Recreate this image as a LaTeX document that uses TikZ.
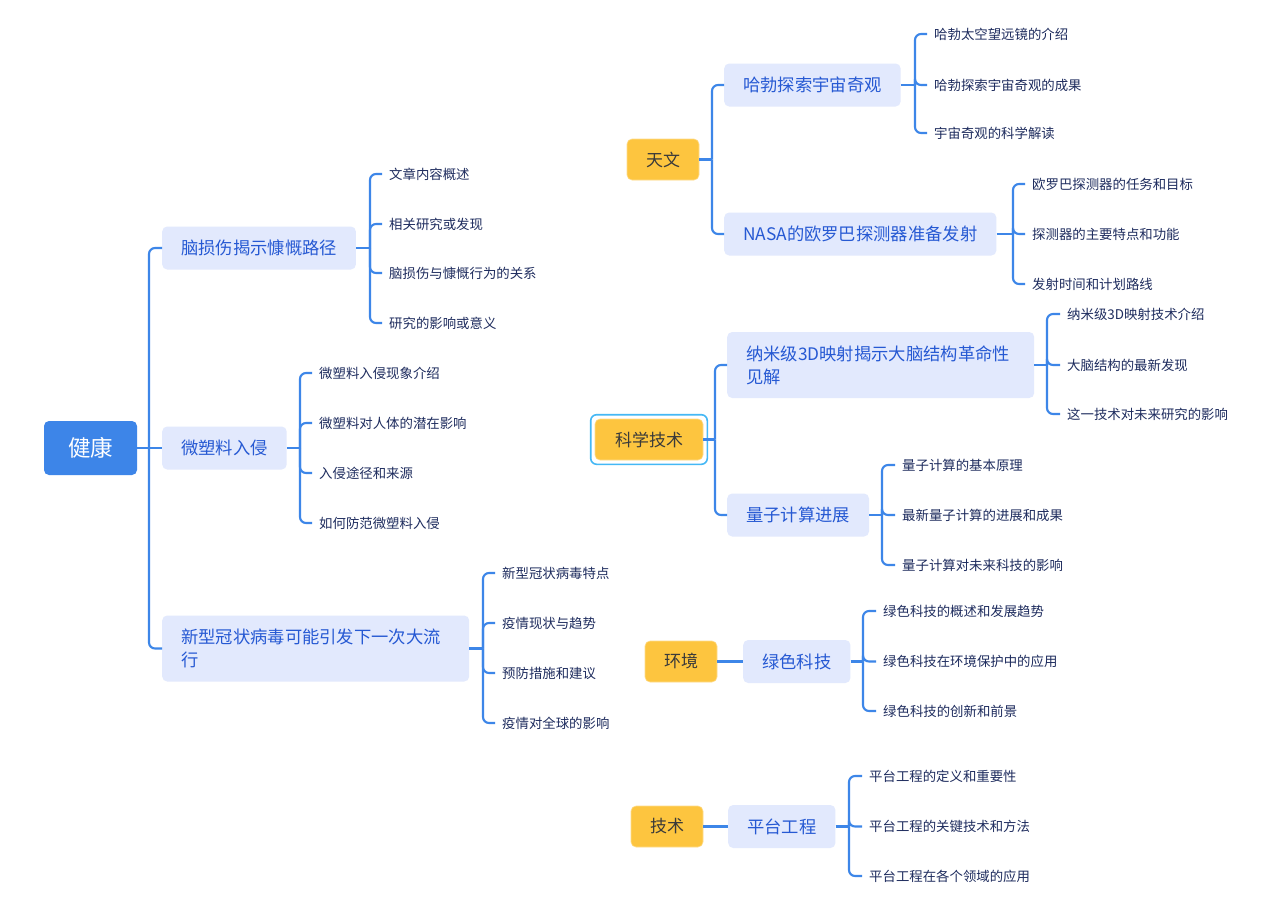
\documentclass[tikz,border=0pt]{standalone}
\usepackage{fontspec}
\setmainfont{Noto Sans CJK SC}
\definecolor{lineblue}{HTML}{3D86E8}
\definecolor{rootblue}{HTML}{3D85E8}
\definecolor{midfill}{HTML}{E2E9FD}
\definecolor{midtext}{HTML}{2659D3}
\definecolor{catfill}{HTML}{FDC53F}
\definecolor{cattext}{HTML}{3A3A3A}
\definecolor{leaftext}{HTML}{1E2C5E}
\definecolor{hlblue}{HTML}{45B8F5}
\begin{document}
\begin{tikzpicture}[x=1pt,y=-1pt,
  conn/.style={draw=lineblue, line width=2.1pt, rounded corners=6pt},
  rootnode/.style={fill=rootblue, text=white, rounded corners=5pt, minimum width=93pt, minimum height=54pt, inner sep=0pt, font=\fontsize{22.5}{27}\selectfont},
  midnode/.style={fill=midfill, text=midtext, rounded corners=5pt, anchor=west, inner xsep=19pt, inner ysep=0pt, minimum height=43pt, align=left, font=\fontsize{17.3}{23}\selectfont},
  catnode/.style={fill=catfill, draw=catfill!60!white, line width=0.6pt, text=cattext, rounded corners=5pt, minimum width=72pt, minimum height=41pt, inner sep=0pt, font=\fontsize{17}{20}\selectfont},
  leafnode/.style={anchor=west, inner xsep=7pt, inner ysep=1pt, text=leaftext, font=\fontsize{13.4}{16}\selectfont}
]
\useasboundingbox[fill=white] (0,0) rectangle (1275,914);

% ---------- left tree ----------
\node[rootnode] (root) at (90.5,448) {健康};
\node[midnode] (m1) at (162,248) {脑损伤揭示慷慨路径};
\node[midnode] (m2) at (162,448) {微塑料入侵};
\node[midnode, text width=269pt, minimum height=66pt] (m3) at (162,648.5) {新型冠状病毒可能引发下一次大流\\行};

\coordinate (j0) at (149,448);
\draw[conn] (root.east) -- (j0);
\draw[conn] (j0) |- (m1.west);
\draw[conn] (j0) -- (m2.west);
\draw[conn] (j0) |- (m3.west);

% m1 leaves
\coordinate (j1) at (370,248);
\node[leafnode] (a1) at (382,174) {文章内容概述};
\node[leafnode] (a2) at (382,224) {相关研究或发现};
\node[leafnode] (a3) at (382,273) {脑损伤与慷慨行为的关系};
\node[leafnode] (a4) at (382,323) {研究的影响或意义};
\draw[conn] (m1.east) -- (j1);
\foreach \n in {a1,a2,a3,a4} \draw[conn] (j1) |- (\n.west);

% m2 leaves
\coordinate (j2) at (300,448);
\node[leafnode] (b1) at (312,373) {微塑料入侵现象介绍};
\node[leafnode] (b2) at (312,423) {微塑料对人体的潜在影响};
\node[leafnode] (b3) at (312,473) {入侵途径和来源};
\node[leafnode] (b4) at (312,523) {如何防范微塑料入侵};
\draw[conn] (m2.east) -- (j2);
\foreach \n in {b1,b2,b3,b4} \draw[conn] (j2) |- (\n.west);

% m3 leaves
\coordinate (j3) at (483,648.5);
\node[leafnode] (c1) at (495,573) {新型冠状病毒特点};
\node[leafnode] (c2) at (495,623) {疫情现状与趋势};
\node[leafnode] (c3) at (495,673) {预防措施和建议};
\node[leafnode] (c4) at (495,723) {疫情对全球的影响};
\draw[conn] (m3.east) -- (j3);
\foreach \n in {c1,c2,c3,c4} \draw[conn] (j3) |- (\n.west);

% ---------- 天文 ----------
\node[catnode] (tw) at (663,159.5) {天文};
\node[midnode] (h) at (724,85) {哈勃探索宇宙奇观};
\node[midnode] (na) at (724,234) {NASA的欧罗巴探测器准备发射};
\coordinate (jt) at (712,159.5);
\draw[conn] (tw.east) -- (jt);
\draw[conn] (jt) |- (h.west);
\draw[conn] (jt) |- (na.west);

\coordinate (jh) at (915,85);
\node[leafnode] (h1) at (927,34) {哈勃太空望远镜的介绍};
\node[leafnode] (h2) at (927,85) {哈勃探索宇宙奇观的成果};
\node[leafnode] (h3) at (927,133) {宇宙奇观的科学解读};
\draw[conn] (h.east) -- (jh);
\foreach \n in {h1,h2,h3} \draw[conn] (jh) |- (\n.west);

\coordinate (jn) at (1013,234);
\node[leafnode] (n1) at (1025,184) {欧罗巴探测器的任务和目标};
\node[leafnode] (n2) at (1025,234) {探测器的主要特点和功能};
\node[leafnode] (n3) at (1025,284) {发射时间和计划路线};
\draw[conn] (na.east) -- (jn);
\foreach \n in {n1,n2,n3} \draw[conn] (jn) |- (\n.west);

% ---------- 科学技术 ----------
\node[catnode, minimum width=108pt] (st) at (649,439.5) {科学技术};
\draw[hlblue, line width=1.6pt, rounded corners=6pt] ([shift={(-4,-4)}]st.north west) rectangle ([shift={(4,4)}]st.south east);
\node[midnode, text width=269pt, minimum height=66pt] (nm) at (727,365) {纳米级3D映射揭示大脑结构革命性\\见解};
\node[midnode] (lz) at (727,515) {量子计算进展};
\coordinate (js) at (715,439.5);
\draw[conn] (st.east) -- (js);
\draw[conn] (js) |- (nm.west);
\draw[conn] (js) |- (lz.west);

\coordinate (jnm) at (1047,365);
\node[leafnode] (p1) at (1060,314) {纳米级3D映射技术介绍};
\node[leafnode] (p2) at (1060,365) {大脑结构的最新发现};
\node[leafnode] (p3) at (1060,414) {这一技术对未来研究的影响};
\draw[conn] (nm.east) -- (jnm);
\foreach \n in {p1,p2,p3} \draw[conn] (jnm) |- (\n.west);

\coordinate (jlz) at (882,515);
\node[leafnode] (q1) at (895,465) {量子计算的基本原理};
\node[leafnode] (q2) at (895,515) {最新量子计算的进展和成果};
\node[leafnode] (q3) at (895,565) {量子计算对未来科技的影响};
\draw[conn] (lz.east) -- (jlz);
\foreach \n in {q1,q2,q3} \draw[conn] (jlz) |- (\n.west);

% ---------- 环境 ----------
\node[catnode] (hj) at (681,661.5) {环境};
\node[midnode] (ls) at (743,661.5) {绿色科技};
\draw[conn] (hj.east) -- (ls.west);
\coordinate (jls) at (863,661.5);
\node[leafnode] (r1) at (876,611) {绿色科技的概述和发展趋势};
\node[leafnode] (r2) at (876,661.5) {绿色科技在环境保护中的应用};
\node[leafnode] (r3) at (876,711) {绿色科技的创新和前景};
\draw[conn] (ls.east) -- (jls);
\foreach \n in {r1,r2,r3} \draw[conn] (jls) |- (\n.west);

% ---------- 技术 ----------
\node[catnode] (js2) at (667,826.5) {技术};
\node[midnode] (pt) at (728,826.5) {平台工程};
\draw[conn] (js2.east) -- (pt.west);
\coordinate (jpt) at (849,826.5);
\node[leafnode] (s1) at (862,776) {平台工程的定义和重要性};
\node[leafnode] (s2) at (862,826.5) {平台工程的关键技术和方法};
\node[leafnode] (s3) at (862,876) {平台工程在各个领域的应用};
\draw[conn] (pt.east) -- (jpt);
\foreach \n in {s1,s2,s3} \draw[conn] (jpt) |- (\n.west);
\end{tikzpicture}
\end{document}
